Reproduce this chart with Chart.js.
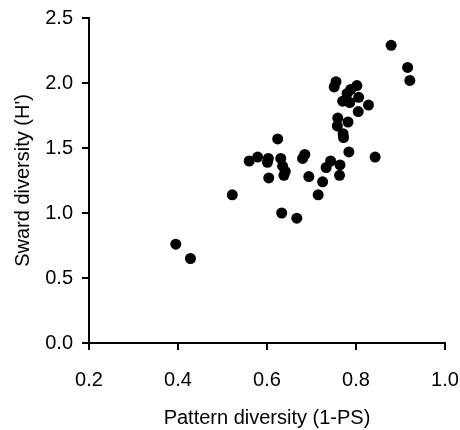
<!DOCTYPE html>
<html>
<head>
<meta charset="utf-8">
<script src="https://cdn.jsdelivr.net/npm/chart.js@4/dist/chart.umd.min.js"></script>
<style>
  html, body { margin: 0; padding: 0; background: #fff; }
  #wrap { width: 460px; height: 430px; position: relative; }
</style>
</head>
<body>
<div id="wrap"><canvas id="c"></canvas></div>
<script>
const patternDiversity = [
  0.395, 0.428, 0.522, 0.560, 0.579, 0.603, 0.601, 0.604, 0.624, 0.631,
  0.635, 0.641, 0.638, 0.633, 0.667, 0.680, 0.685, 0.694, 0.715, 0.725,
  0.733, 0.743, 0.764, 0.763, 0.784, 0.843, 0.771, 0.772, 0.759, 0.758,
  0.782, 0.805, 0.828, 0.770, 0.786, 0.806, 0.780, 0.788, 0.802, 0.755,
  0.751, 0.879, 0.916, 0.921
];
const swardDiversity = [
  0.76, 0.65, 1.14, 1.40, 1.43, 1.42, 1.39, 1.27, 1.57, 1.42,
  1.36, 1.32, 1.29, 1.00, 0.96, 1.42, 1.45, 1.28, 1.14, 1.24,
  1.35, 1.40, 1.37, 1.29, 1.47, 1.43, 1.61, 1.58, 1.73, 1.67,
  1.70, 1.78, 1.83, 1.86, 1.85, 1.89, 1.92, 1.95, 1.98, 2.01,
  1.97, 2.29, 2.12, 2.02
];
const xTicks = [0.2, 0.4, 0.6, 0.8, 1.0];
const yTicks = [0.0, 0.5, 1.0, 1.5, 2.0, 2.5];
const xTitle = "Pattern diversity (1-PS)";
const yTitle = "Sward diversity (H')";

const points = patternDiversity.map((x, i) => ({ x: x, y: swardDiversity[i] }));
const FONT = "'Liberation Sans', Arial, sans-serif";

new Chart(document.getElementById('c'), {
  type: 'scatter',
  data: {
    datasets: [{
      data: points,
      backgroundColor: '#000',
      borderColor: '#000',
      borderWidth: 0,
      pointRadius: 5.5,
      pointHoverRadius: 5.5,
      clip: false
    }]
  },
  options: {
    responsive: true,
    maintainAspectRatio: false,
    animation: false,
    events: [],
    layout: { padding: { top: 18, right: 15, left: 0, bottom: 0 } },
    plugins: { legend: { display: false }, tooltip: { enabled: false } },
    scales: {
      x: {
        type: 'linear',
        min: xTicks[0],
        max: xTicks[xTicks.length - 1],
        afterBuildTicks: (s) => { s.ticks = xTicks.map(v => ({ value: v })); },
        afterFit: (s) => { s.height = 430 - 343; s.paddingRight = 0; s.paddingLeft = 0; },
        ticks: {
          color: '#000',
          font: { family: FONT, size: 20 },
          padding: 18,
          callback: (v) => Number(v).toFixed(1)
        },
        grid: { display: true, drawOnChartArea: false, drawTicks: true, tickLength: 7, color: '#000', lineWidth: 2 },
        border: { display: true, color: '#000', width: 2 },
        title: { display: true, text: xTitle, color: '#000', font: { family: FONT, size: 20 }, padding: { top: 6, bottom: 0 } }
      },
      y: {
        type: 'linear',
        min: yTicks[0],
        max: yTicks[yTicks.length - 1],
        afterBuildTicks: (s) => { s.ticks = yTicks.map(v => ({ value: v })); },
        afterFit: (s) => { s.width = 89; s.paddingTop = 0; s.paddingBottom = 0; },
        ticks: {
          color: '#000',
          font: { family: FONT, size: 20 },
          padding: 9,
          callback: (v) => Number(v).toFixed(1)
        },
        grid: { display: true, drawOnChartArea: false, drawTicks: true, tickLength: 7, color: '#000', lineWidth: 2 },
        border: { display: true, color: '#000', width: 2 },
        title: { display: true, text: yTitle, color: '#000', font: { family: FONT, size: 20 }, padding: { top: 11, bottom: 0 } }
      }
    }
  }
});
</script>
</body>
</html>
